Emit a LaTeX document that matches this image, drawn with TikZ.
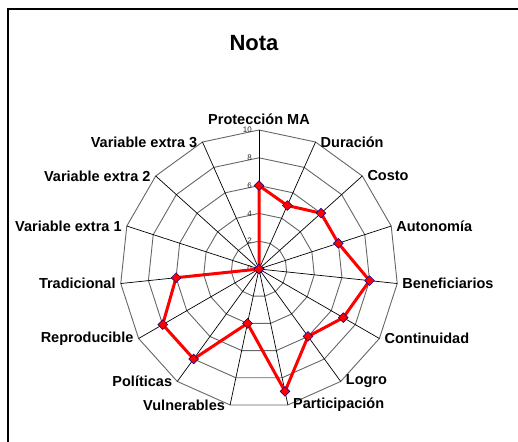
\documentclass[tikz,border=0pt]{standalone}
\usepackage{fontspec}
\setmainfont{Liberation Sans}
\usetikzlibrary{positioning}
\usetikzlibrary{shapes.geometric}

\tikzset{
  ring/.style={draw=black!60, line width=0.9pt},
  spoke/.style={draw=black, line width=0.7pt},
  axislabel/.style={font=\fontsize{14.5}{16}\selectfont\bfseries, inner sep=5pt},
  ticklabel/.style={font=\fontsize{8}{9}\selectfont, text=black!85, inner sep=0pt},
  datapoint/.style={diamond, aspect=1, fill=red, draw=blue!60!black, line width=0.5pt, inner sep=0pt, minimum size=10pt},
  dataline/.style={draw=red, line width=3pt, line join=round}
}

\begin{document}
\begin{tikzpicture}[x=1pt, y=1pt]
  \useasboundingbox (-259,-172) rectangle (259,269);
  % one unit of the scale, in pt
  \def\unit{13.9}

  % frame and title
  \draw[line width=2pt] (-251,-180) -- (-251,260) -- (270,260);
  \node[font=\fontsize{22}{24}\selectfont\bfseries] (title) at (-5,226) {Nota};

  \coordinate (c) at (0,0);

  % rings of the grid
  \foreach \r in {2,4,6,8,10}
    \draw[ring] (90:{\r*\unit}) \foreach \i in {1,...,14} { -- ({90-24*\i}:{\r*\unit}) } -- cycle;

  % spokes, labels and data positions
  \foreach \i/\name/\pos/\val in {0/Protección MA/south/6, 1/Duración/west/5, 2/Costo/west/6,
      3/Autonomía/west/6, 4/Beneficiarios/west/8, 5/Continuidad/west/7, 6/Logro/west/6,
      7/Participación/west/9, 8/Vulnerables/east/4, 9/Políticas/east/8, 10/Reproducible/east/8,
      11/Tradicional/east/6, 12/Variable extra 1/east/0, 13/Variable extra 2/east/0,
      14/Variable extra 3/east/0}
    {\coordinate (v\i) at ({90-24*\i}:{10*\unit});
     \coordinate (d\i) at ({90-24*\i}:{\val*\unit});
     \draw[spoke] (c) -- (v\i);
     \node[axislabel, anchor=\pos] (l\i) at (v\i) {\name};}

  % scale numbers on the first axis
  \foreach \r in {0,2,4,6,8,10}
    \node[ticklabel, anchor=east] (t\r) at (-7,{\r*\unit}) {\r};

  % data
  \draw[dataline] (d0) -- (d1) -- (d2) -- (d3) -- (d4) -- (d5) -- (d6) -- (d7) -- (d8)
    -- (d9) -- (d10) -- (d11) -- (d12) -- (d13) -- (d14) -- cycle;
  \foreach \i in {0,...,14}
    \node[datapoint] (p\i) at (d\i) {};
\end{tikzpicture}
\end{document}
